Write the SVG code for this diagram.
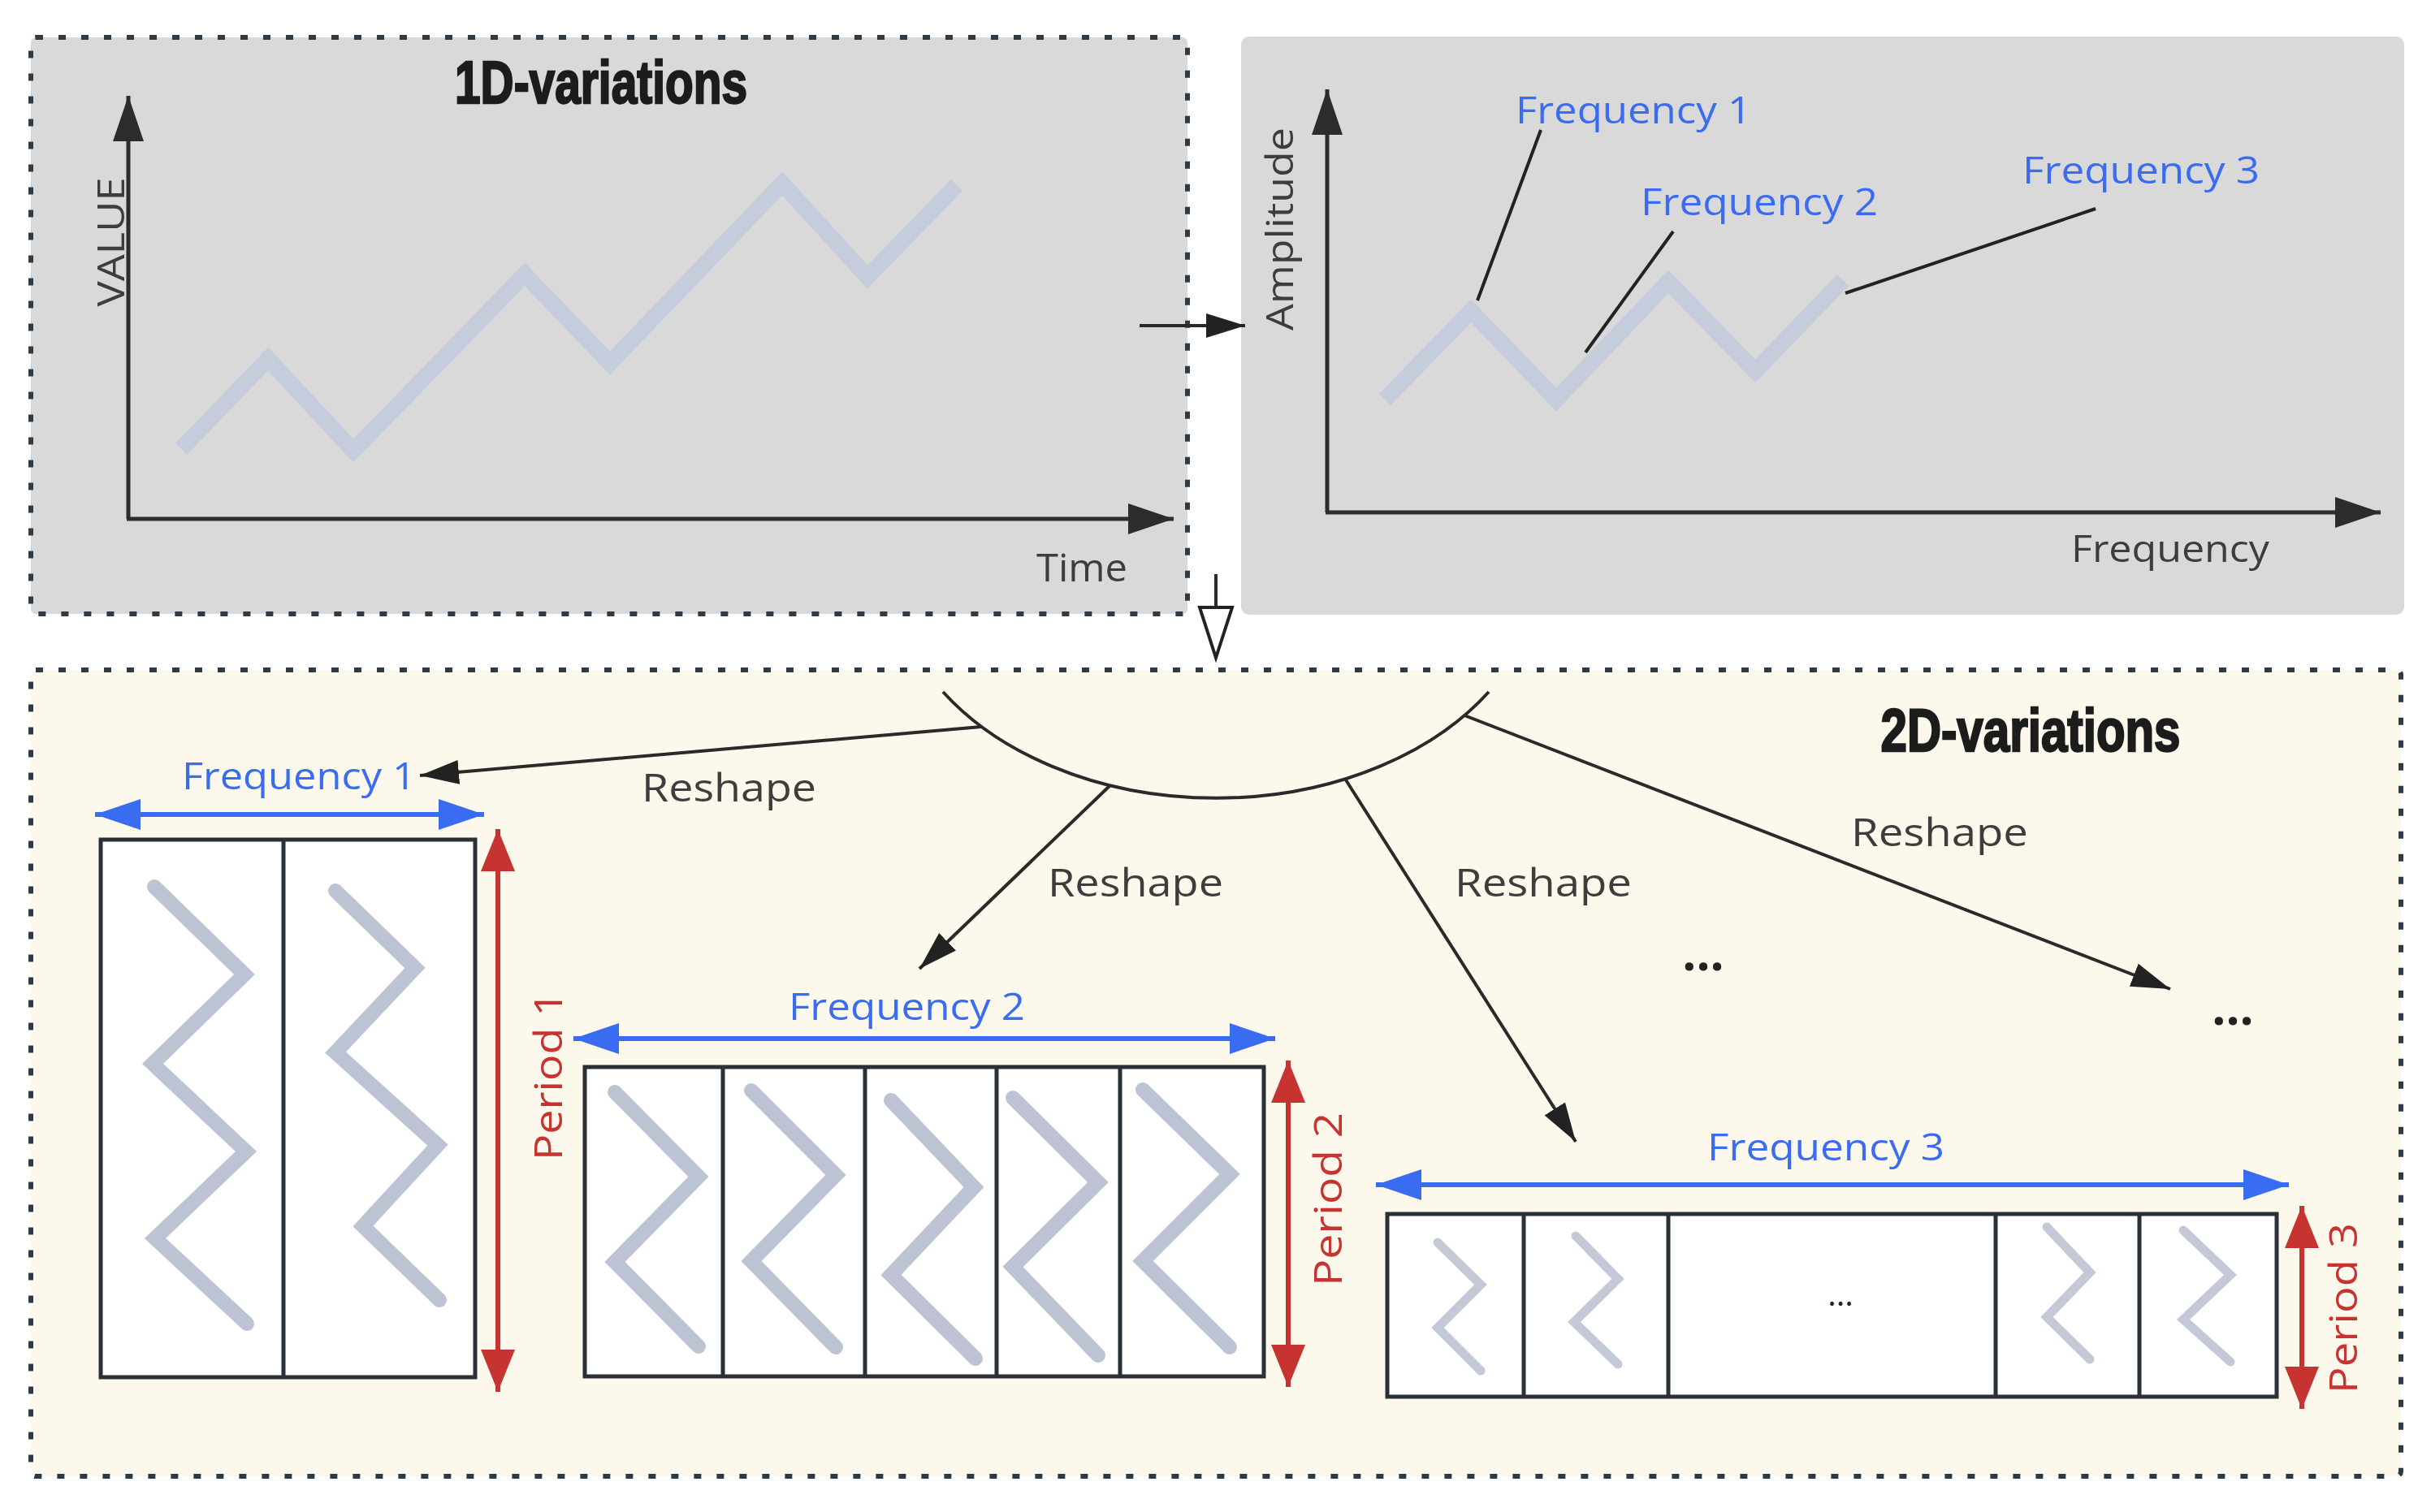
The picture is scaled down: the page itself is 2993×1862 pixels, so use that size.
<svg xmlns="http://www.w3.org/2000/svg" width="2993" height="1862" viewBox="0 0 2993 1862">
<defs>
<style>
.t{font-family:"Open Sans","Liberation Sans",sans-serif;}
.dark{fill:#3d3d3d;}
.blue{fill:#3a6cf2;}
.red{fill:#c73330;}
.title{font-family:"Liberation Sans",Arial,sans-serif;font-weight:bold;fill:#1c1c1c;stroke:#1c1c1c;stroke-width:2.5;}
.axis{stroke:#2c2c2c;stroke-width:5;fill:none;}
.wave{stroke:#c5ccdc;stroke-width:20;fill:none;stroke-linejoin:miter;}
.gw{stroke:#bcc4d4;stroke-width:18;fill:none;stroke-linecap:round;stroke-linejoin:miter;}
.gw3{stroke:#c3c9d7;stroke-width:11;fill:none;stroke-linecap:round;}
.leader{stroke:#222;stroke-width:4;fill:none;}
.cell{fill:#fff;stroke:#2a3136;stroke-width:5;}
.div{stroke:#2a3136;stroke-width:5;}
.conn{stroke:#2a2a2a;stroke-width:4;fill:none;}
.bdim{stroke:#3a6cf2;stroke-width:6;fill:none;}
.rdim{stroke:#c73330;stroke-width:6;fill:none;}
.box{stroke:#2e3a44;stroke-width:6;stroke-dasharray:9 19;}
</style>
<marker id="ax" markerUnits="userSpaceOnUse" markerWidth="58" markerHeight="40" refX="56" refY="20" orient="auto"><path d="M0,1 L56,20 L0,39 z" fill="#2c2c2c"/></marker>
<marker id="ar" markerUnits="userSpaceOnUse" markerWidth="50" markerHeight="32" refX="48" refY="16" orient="auto"><path d="M0,1 L48,16 L0,31 z" fill="#222"/></marker>
<marker id="hol" markerUnits="userSpaceOnUse" markerWidth="70" markerHeight="50" refX="2" refY="25" orient="auto" overflow="visible"><path d="M2,5 L64,25 L2,45 z" fill="#fff" stroke="#222" stroke-width="4"/></marker>
<marker id="bl" markerUnits="userSpaceOnUse" markerWidth="58" markerHeight="40" refX="56" refY="20" orient="auto-start-reverse"><path d="M0,1 L56,20 L0,39 z" fill="#3a6cf2"/></marker>
<marker id="rd" markerUnits="userSpaceOnUse" markerWidth="54" markerHeight="44" refX="52" refY="22" orient="auto-start-reverse"><path d="M0,1 L52,22 L0,43 z" fill="#c73330"/></marker>
</defs>

<g id="box-1d">
<rect x="38" y="46" width="1424" height="710" rx="6" fill="#d9d9d9" class="box"/>
<text class="title" x="740" y="127" font-size="75" text-anchor="middle" textLength="360" lengthAdjust="spacingAndGlyphs">1D-variations</text>
<path class="axis" d="M158,639 V118" marker-end="url(#ax)"/>
<path class="axis" d="M156,639 H1445" marker-end="url(#ax)"/>
<path class="wave" d="M223,553 L330,442 L435,555 L646,338 L751,447 L963,226 L1068,341 L1178,228"/>
<text class="t dark" transform="translate(153,298) rotate(-90)" font-size="46" text-anchor="middle" textLength="159" lengthAdjust="spacingAndGlyphs">VALUE</text>
<text class="t dark" x="1276" y="716" font-size="48" textLength="112" lengthAdjust="spacingAndGlyphs">Time</text>
</g>

<g id="box-freq">
<rect x="1528" y="45" width="1432" height="712" rx="10" fill="#d9d9d9"/>
<path class="axis" d="M1634,631 V110" marker-end="url(#ax)"/>
<path class="axis" d="M1632,631 H2931" marker-end="url(#ax)"/>
<path class="wave" d="M1705,492 L1811,383 L1916,492 L2054,347 L2161,457 L2269,345"/>
<path class="leader" d="M1819,370 L1897,160"/>
<path class="leader" d="M1952,434 L2060,285"/>
<path class="leader" d="M2272,361 L2580,257"/>
<text class="t dark" transform="translate(1592,282) rotate(-90)" font-size="46" text-anchor="middle" textLength="250" lengthAdjust="spacingAndGlyphs">Amplitude</text>
<text class="t dark" x="2550" y="692" font-size="46" textLength="244" lengthAdjust="spacingAndGlyphs">Frequency</text>
<text class="t blue" x="1866" y="152" font-size="46" textLength="290" lengthAdjust="spacingAndGlyphs">Frequency 1</text>
<text class="t blue" x="2020" y="265" font-size="46" textLength="292" lengthAdjust="spacingAndGlyphs">Frequency 2</text>
<text class="t blue" x="2490" y="226" font-size="46" textLength="292" lengthAdjust="spacingAndGlyphs">Frequency 3</text>
</g>

<g id="box-2d">
<rect x="38" y="825" width="2918" height="993" rx="6" fill="#fcf8eb" class="box"/>
<text class="title" x="2500" y="925" font-size="74" text-anchor="middle" textLength="369" lengthAdjust="spacingAndGlyphs">2D-variations</text>
</g>

<g id="grid-1">
<rect class="cell" x="124" y="1034" width="461" height="662"/>
<line class="div" x1="349" y1="1034" x2="349" y2="1696"/>
<path class="gw" d="M190,1092 L301,1200 L188,1310 L303,1418 L191,1525 L304,1630"/>
<path class="gw" d="M413,1097 L511,1192 L413,1296 L539,1410 L447,1510 L541,1601"/>
<path class="bdim" d="M117,1003 H596" marker-start="url(#bl)" marker-end="url(#bl)"/>
<text class="t blue" x="224" y="972" font-size="46" textLength="288" lengthAdjust="spacingAndGlyphs">Frequency 1</text>
<path class="rdim" d="M613,1021 V1714" marker-start="url(#rd)" marker-end="url(#rd)"/>
<text class="t red" transform="translate(692,1325) rotate(-90)" font-size="48" text-anchor="middle" textLength="208" lengthAdjust="spacingAndGlyphs">Period 1</text>
</g>

<g id="grid-2">
<rect class="cell" x="720" y="1314" width="836" height="381"/>
<line class="div" x1="890" y1="1314" x2="890" y2="1695"/>
<line class="div" x1="1065" y1="1314" x2="1065" y2="1695"/>
<line class="div" x1="1227" y1="1314" x2="1227" y2="1695"/>
<line class="div" x1="1379" y1="1314" x2="1379" y2="1695"/>
<path class="gw" d="M757,1345 L860,1449 L757,1554 L860,1658"/>
<path class="gw" d="M925,1343 L1029,1447 L925,1553 L1029,1659"/>
<path class="gw" d="M1097,1355 L1199,1462 L1097,1570 L1201,1673"/>
<path class="gw" d="M1247,1352 L1352,1456 L1247,1560 L1352,1669"/>
<path class="gw" d="M1407,1342 L1514,1446 L1407,1553 L1514,1659"/>
<path class="bdim" d="M706,1279 H1570" marker-start="url(#bl)" marker-end="url(#bl)"/>
<text class="t blue" x="971" y="1256" font-size="46" textLength="291" lengthAdjust="spacingAndGlyphs">Frequency 2</text>
<path class="rdim" d="M1586,1306 V1708" marker-start="url(#rd)" marker-end="url(#rd)"/>
<text class="t red" transform="translate(1652,1477) rotate(-90)" font-size="48" text-anchor="middle" textLength="214" lengthAdjust="spacingAndGlyphs">Period 2</text>
</g>

<g id="grid-3">
<rect class="cell" x="1708" y="1495" width="1095" height="225"/>
<line class="div" x1="1876" y1="1495" x2="1876" y2="1720"/>
<line class="div" x1="2054" y1="1495" x2="2054" y2="1720"/>
<line class="div" x1="2457" y1="1495" x2="2457" y2="1720"/>
<line class="div" x1="2634" y1="1495" x2="2634" y2="1720"/>
<path class="gw3" d="M1770,1530 L1823,1582 L1770,1635 L1823,1688"/>
<path class="gw3" d="M1940,1522 L1992,1575 L1938,1628 L1992,1680"/>
<path class="gw3" d="M2520,1511 L2573,1567 L2520,1622 L2573,1674"/>
<path class="gw3" d="M2688,1515 L2746,1570 L2688,1625 L2746,1677"/>
<text class="t" x="2266" y="1608" font-size="40" fill="#222" text-anchor="middle">...</text>
<path class="bdim" d="M1694,1459 H2818" marker-start="url(#bl)" marker-end="url(#bl)"/>
<text class="t blue" x="2102" y="1429" font-size="46" textLength="292" lengthAdjust="spacingAndGlyphs">Frequency 3</text>
<path class="rdim" d="M2834,1485 V1735" marker-start="url(#rd)" marker-end="url(#rd)"/>
<text class="t red" transform="translate(2902,1611) rotate(-90)" font-size="48" text-anchor="middle" textLength="210" lengthAdjust="spacingAndGlyphs">Period 3</text>
</g>

<g id="more-1">
<text class="t" x="2097" y="1195" font-size="60" font-weight="bold" fill="#222" text-anchor="middle">...</text>
</g>
<g id="more-2">
<text class="t" x="2749" y="1262" font-size="60" font-weight="bold" fill="#222" text-anchor="middle">...</text>
</g>

<g id="connectors">
<path class="conn" d="M1403,401 H1533" marker-end="url(#ar)"/>
<path class="conn" d="M1497,707 V748" marker-end="url(#hol)"/>
<path class="conn" d="M1161,852 A400,286 0 0 0 1833,852"/>
<path class="conn" d="M1208,895 L517,955" marker-end="url(#ar)"/>
<path class="conn" d="M1367,967 L1132,1193" marker-end="url(#ar)"/>
<path class="conn" d="M1656,959 L1940,1406" marker-end="url(#ar)"/>
<path class="conn" d="M1803,881 L2672,1218" marker-end="url(#ar)"/>
<text class="t dark" x="790" y="987" font-size="48" textLength="215" lengthAdjust="spacingAndGlyphs">Reshape</text>
<text class="t dark" x="1290" y="1104" font-size="48" textLength="216" lengthAdjust="spacingAndGlyphs">Reshape</text>
<text class="t dark" x="1791" y="1104" font-size="48" textLength="218" lengthAdjust="spacingAndGlyphs">Reshape</text>
<text class="t dark" x="2279" y="1042" font-size="48" textLength="218" lengthAdjust="spacingAndGlyphs">Reshape</text>
</g>
</svg>
